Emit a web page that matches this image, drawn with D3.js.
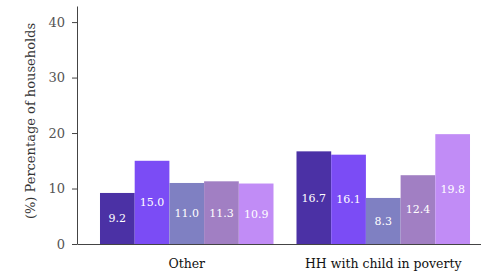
<!DOCTYPE html>
<html>
<head>
<meta charset="utf-8">
<script src="https://cdn.jsdelivr.net/npm/d3@7"></script>
<style>
  body { margin: 0; background: #fff; }
</style>
</head>
<body>
<div id="chart"></div>
<script>
// chart data
const groups = ["Other", "HH with child in poverty"];
const series = ["s1", "s2", "s3", "s4", "s5"];
const otherValues = [9.2, 15.0, 11.0, 11.3, 10.9];
const povertyValues = [16.7, 16.1, 8.3, 12.4, 19.8];
const yTicks = [0, 10, 20, 30, 40];
const colors = ["#4b31a5", "#7b4cf5", "#7f80c2", "#a17fc3", "#c18cf6"];

const serif = "'DejaVu Serif', serif";

const data = [
  { group: groups[0], values: otherValues },
  { group: groups[1], values: povertyValues }
];

const width = 481, height = 275;
const svg = d3.select("#chart").append("svg")
  .attr("width", width)
  .attr("height", height);

// scales
const x = d3.scaleBand().domain(groups).range([77, 493])
  .paddingInner(0.117).paddingOuter(0.117);
const xs = d3.scaleBand().domain(series).range([0, x.bandwidth()]);
const y = d3.scaleLinear().domain([0, 42.9]).range([244, 6]);

// bars
const g = svg.append("g").selectAll("g")
  .data(data)
  .join("g")
  .attr("transform", d => `translate(${x(d.group)},0)`);

g.selectAll("rect")
  .data(d => d.values.map((v, i) => ({ key: series[i], value: v })))
  .join("rect")
  .attr("x", d => xs(d.key))
  .attr("y", d => y(d.value))
  .attr("width", xs.bandwidth())
  .attr("height", d => y(0) - y(d.value))
  .attr("fill", (d, i) => colors[i]);

g.selectAll("text")
  .data(d => d.values.map((v, i) => ({ key: series[i], value: v })))
  .join("text")
  .attr("x", d => xs(d.key) + xs.bandwidth() / 2)
  .attr("y", d => (y(d.value) + y(0)) / 2)
  .attr("dy", "0.35em")
  .attr("text-anchor", "middle")
  .attr("fill", "#fff")
  .style("font-family", serif)
  .style("font-size", "11px")
  .text(d => d.value.toFixed(1));

// y axis
const yAxis = svg.append("g")
  .attr("transform", "translate(77,0)")
  .call(d3.axisLeft(y).tickValues(yTicks).tickSize(5).tickSizeOuter(0));
yAxis.select(".domain").attr("stroke", "#444");
yAxis.selectAll(".tick line").attr("stroke", "#444");
yAxis.selectAll(".tick text")
  .attr("fill", "#555")
  .style("font-family", serif)
  .style("font-size", "13px")
  .attr("x", -12);

// x axis
const xAxis = svg.append("g")
  .attr("transform", "translate(0,244)")
  .call(d3.axisBottom(x).tickSize(0).tickSizeOuter(0));
xAxis.select(".domain").attr("stroke", "#444");
xAxis.selectAll(".tick text")
  .attr("fill", "#111")
  .attr("dy", "1.65em")
  .style("font-family", serif)
  .style("font-size", "12.5px");

// y axis title
svg.append("text")
  .attr("transform", "translate(35,121) rotate(-90)")
  .attr("text-anchor", "middle")
  .attr("fill", "#333")
  .style("font-family", serif)
  .style("font-size", "13px")
  .text("(%) Percentage of households");
</script>
</body>
</html>
